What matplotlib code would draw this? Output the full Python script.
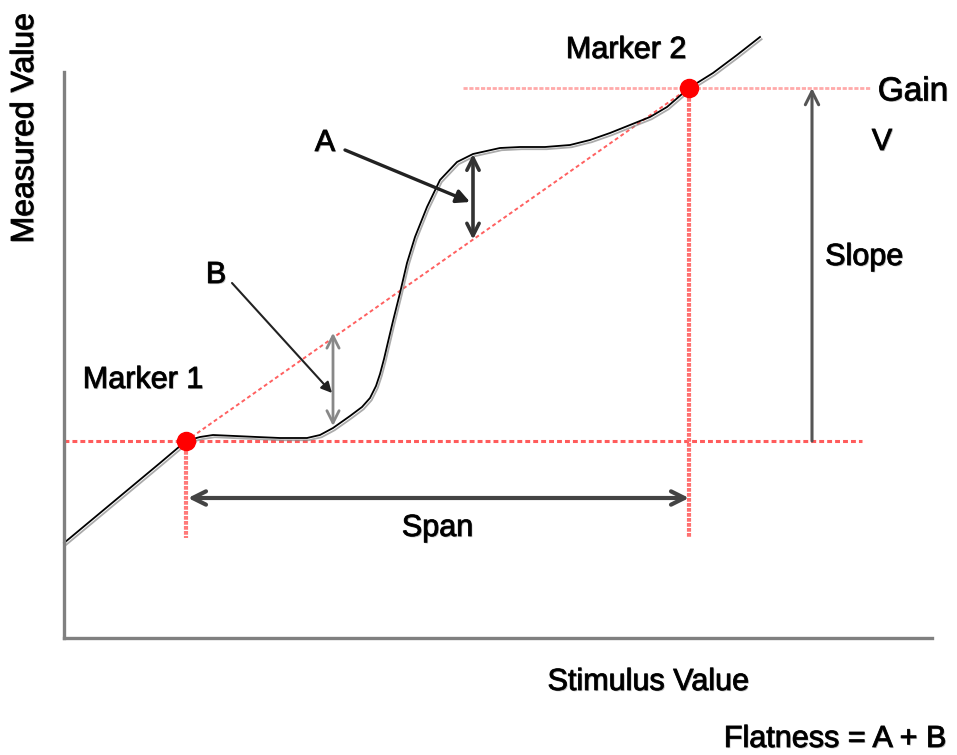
import matplotlib
matplotlib.use("Agg")
import matplotlib.pyplot as plt
import matplotlib.patheffects as pe
import numpy as np

plt.rcParams['font.family'] = ['Liberation Sans', 'DejaVu Sans']

# response curve (stimulus, measured)
stimulus = [64, 100, 130, 160, 186, 200, 213, 235, 257, 280, 307, 320, 333,
            350, 362, 370, 376, 380, 384, 388, 393, 400, 407, 415, 427, 440,
            457, 473, 500, 520, 545, 570, 590, 610, 630, 650, 667, 689, 713,
            737, 760]
measured = [212, 242, 267, 292, 314, 318, 320, 319, 318, 317, 317, 320, 327,
            339, 348, 357, 369, 381, 396, 413, 434, 462, 492, 518, 548, 575,
            593, 601, 607, 608, 608, 610, 615, 622, 630, 638, 648, 667, 682,
            700, 718]

# two markers on the curve
marker_x = [186, 689]
marker_y = [314, 667]

# where the flatness deviations are measured
dev_x = [473, 333]
dev_names = ["A", "B"]

fig = plt.figure(figsize=(9.57, 7.55), dpi=100)
ax = fig.add_axes([64 / 957, 117 / 755, 868 / 957, 566 / 755])
ax.set_xlim(64, 932)
ax.set_ylim(117, 683)
for s in ["top", "right"]:
    ax.spines[s].set_visible(False)
for s in ["left", "bottom"]:
    ax.spines[s].set_color("#808080")
    ax.spines[s].set_linewidth(2.4)
ax.set_xticks([])
ax.set_yticks([])

shadow = [pe.SimpleLineShadow(offset=(1.2, -1.6), shadow_color="#888888", alpha=0.7), pe.Normal()]
txt_fx = [pe.withSimplePatchShadow(offset=(0.8, -0.8), shadow_rgbFace="#999999", alpha=0.6),
          pe.withStroke(linewidth=0.7, foreground="#222222")]

(x1, x2), (y1, y2) = marker_x, marker_y

# red reference lines
ax.plot([64, 862], [y1, y1], color="#ff5c5c", lw=2.2, ls=(0, (1.6, 1.0)), clip_on=False)
ax.plot([463, 870], [y2, y2], color="#ffaaaa", lw=2.0, ls=(0, (1.5, 0.6)), clip_on=False)
ax.plot([x1, x1], [y1, 217], color="#ff7a7a", lw=3.0, ls=(0, (0.9, 0.3)), clip_on=False)
ax.plot([x2, x2], [y2, 218], color="#ff7070", lw=3.0, ls=(0, (0.9, 0.3)), clip_on=False)
ax.plot(marker_x, marker_y, color="#ff6060", lw=1.4, ls=(0, (2, 1.5)), clip_on=False)

# curve
ax.plot(stimulus, measured, color="black", lw=1.3, clip_on=False, path_effects=shadow)
ax.plot(marker_x, marker_y, "o", color="red", ms=13, clip_on=False, zorder=5)

# deviation arrows A and B
slope = (y2 - y1) / (x2 - x1)
for x, name in zip(dev_x, dev_names):
    top = np.interp(x, stimulus, measured)
    low = y1 + (x - x1) * slope
    if name == "A":
        ax.annotate("", xy=(x, low), xytext=(x, top),
                    arrowprops=dict(arrowstyle="<->", color="#333333", lw=2.6, mutation_scale=22,
                                    shrinkA=0, shrinkB=0))
    else:
        ax.annotate("", xy=(x, low + 5), xytext=(x, top + 2),
                    arrowprops=dict(arrowstyle="<->", color="#888888", lw=2.0, mutation_scale=22,
                                    shrinkA=0, shrinkB=0))

# pointers from labels
ax.annotate("", xy=(470, 553), xytext=(345, 605),
            arrowprops=dict(arrowstyle="-|>", color="#222222", lw=2.4, mutation_scale=20,
                            shrinkA=0, shrinkB=0))
ax.annotate("", xy=(332, 362), xytext=(232, 472),
            arrowprops=dict(arrowstyle="-|>", color="#222222", lw=1.5, mutation_scale=16,
                            shrinkA=0, shrinkB=0))
ax.text(325, 612, "A", fontsize=22, ha="center", va="center", path_effects=txt_fx)
ax.text(216, 480, "B", fontsize=22, ha="center", va="center", path_effects=txt_fx)

# span arrow
ax.annotate("", xy=(x2, 257), xytext=(x1 + 2, 257),
            arrowprops=dict(arrowstyle="<->", color="#444444", lw=3.0, mutation_scale=24,
                            shrinkA=0, shrinkB=0))
ax.text((x1 + x2) / 2, 227, "Span", fontsize=22, ha="center", va="center", path_effects=txt_fx)

# slope arrow
ax.annotate("", xy=(812, y2), xytext=(812, y1),
            arrowprops=dict(arrowstyle="->", color="#555555", lw=2.2, mutation_scale=24,
                            shrinkA=0, shrinkB=0))
ax.text(864, 498, "Slope", fontsize=22, ha="center", va="center", path_effects=txt_fx)
ax.text(913, 663, "Gain", fontsize=24, ha="center", va="center", path_effects=txt_fx)
ax.text(882, 613, "V", fontsize=22, ha="center", va="center", path_effects=txt_fx)

ax.text(143, 375, "Marker 1", fontsize=22, ha="center", va="center", path_effects=txt_fx)
ax.text(626, 705, "Marker 2", fontsize=22, ha="center", va="center", path_effects=txt_fx)

ax.text(25, 627, "Measured Value", fontsize=23, rotation=90, ha="center", va="center",
        path_effects=txt_fx)
ax.text(648, 73, "Stimulus Value", fontsize=22, ha="center", va="center", path_effects=txt_fx)
ax.text(835, 16, "Flatness = A + B", fontsize=22, ha="center", va="center", path_effects=txt_fx)

fig.savefig("out.png", dpi=100)
